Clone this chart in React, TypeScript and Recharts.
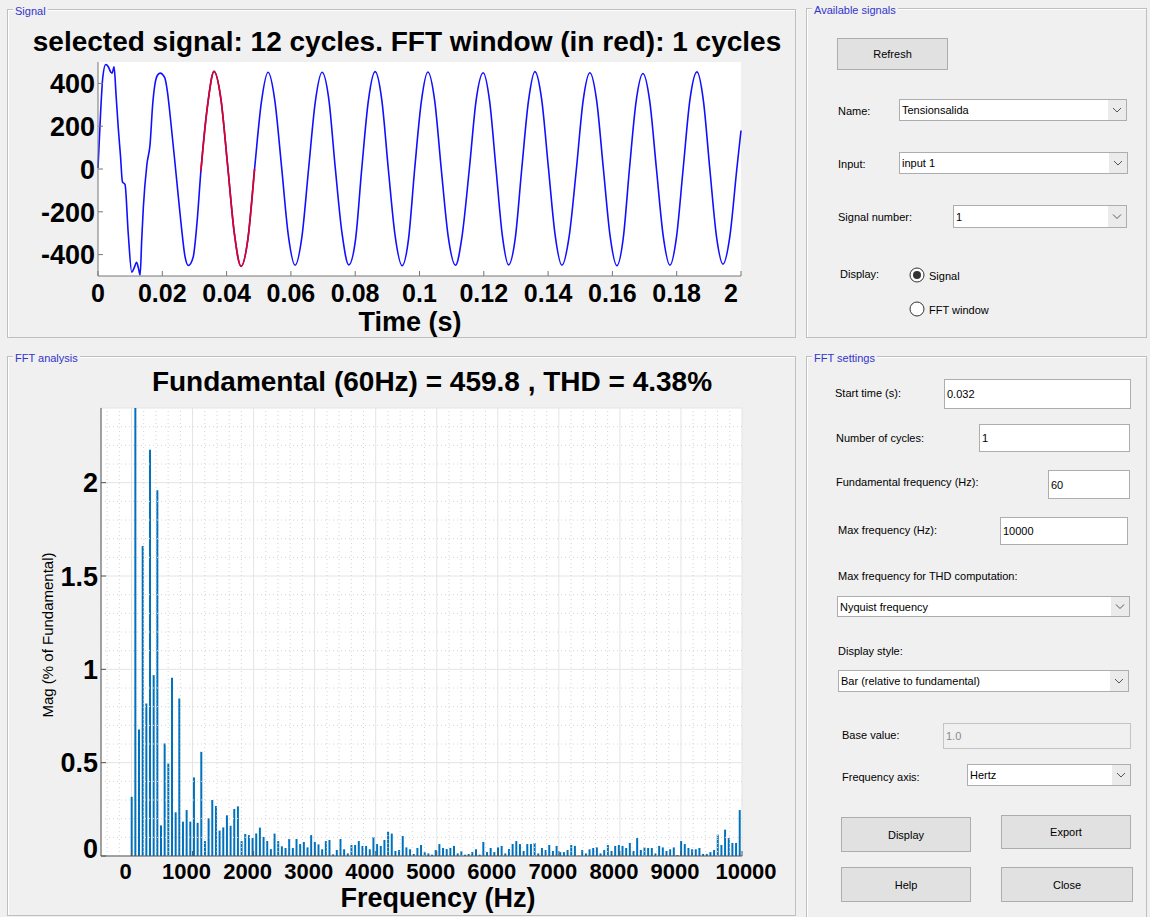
import React from "react";
import {
  Bar,
  CartesianGrid,
  ComposedChart,
  Line,
  LineChart,
  ReferenceLine,
  XAxis,
  YAxis,
} from "recharts";

const FONT = "'Liberation Sans', Arial, Helvetica, sans-serif";
const BG = "#f0f0f0";

// Signal trace: time (s) and amplitude.
const signalTime = [
  0.0, 0.0008, 0.0015, 0.0024, 0.0032, 0.004, 0.0044, 0.005, 0.0056, 0.0063, 0.007, 0.0076, 0.0084,
  0.0094, 0.0105, 0.0113, 0.012, 0.0126, 0.0131, 0.0136, 0.0141, 0.0152, 0.0162, 0.017, 0.0177,
  0.0185, 0.0193, 0.02, 0.0208, 0.0216, 0.0224, 0.0245, 0.0258, 0.0271, 0.0281, 0.0296, 0.0308,
  0.032, 0.0341, 0.0361, 0.0382, 0.0403, 0.0424, 0.0445, 0.0466, 0.0487,
  0.0508, 0.0529, 0.055, 0.0571, 0.0592, 0.0613, 0.0634,
  0.0655, 0.0676, 0.0697, 0.0718, 0.0738, 0.0759, 0.078, 0.0801,
  0.082, 0.0841, 0.0862, 0.0883, 0.0903, 0.0924, 0.0946, 0.0966,
  0.0985, 0.1006, 0.1026, 0.1047, 0.1068, 0.1089, 0.1112, 0.1132,
  0.1155, 0.1176, 0.1198, 0.1218, 0.1238, 0.1258, 0.1277, 0.1298,
  0.1318, 0.1339, 0.1359, 0.138, 0.1401, 0.1422, 0.1443, 0.1465,
  0.1488, 0.1509, 0.153, 0.1551, 0.1572, 0.1593, 0.1614, 0.1634,
  0.1653, 0.1674, 0.1695, 0.1716, 0.1737, 0.1758, 0.1779, 0.1799,
  0.182, 0.1841, 0.1863, 0.1883, 0.1903, 0.1924, 0.1944, 0.1965,
  0.1987, 0.2,
];
const signalValue = [
  5, 260, 430, 488, 478, 452, 448, 478, 350, 192, 60, -60, -72,
  -300, -482, -460, -436, -465, -495, -330, -180, 20, 116, 300, 395,
  438, 448, 443, 425, 360, 256, -56, -250, -412, -451, -412, -250,
  -10, 300, 456, 330, 20, -300, -455, -330, 0,
  310, 452, 320, 10, -310, -450, -320,
  0, 315, 452, 325, 5, -300, -448, -330,
  -5, 320, 455, 320, 0, -310, -452, -325,
  0, 318, 453, 322, -5, -312, -450, -318,
  0, 320, 450, 318, 0, -315, -448, -322,
  0, 318, 455, 325, 5, -310, -450, -320,
  0, 320, 450, 320, 0, -315, -452, -320,
  0, 318, 446, 318, 0, -312, -450, -322,
  0, 322, 454, 320, 0, -318, -445, -318,
  0, 180,
];

// FFT window drawn in red (start time, one 60 Hz cycle later).
const windowStart = 0.032;
const windowEnd = 0.0487;

const timeTicks = [0, 0.02, 0.04, 0.06, 0.08, 0.1, 0.12, 0.14, 0.16, 0.18, 0.2];
const voltTicks = [-400, -200, 0, 200, 400];

// Harmonic magnitudes in % of fundamental; index = harmonic order (0 = DC).
const fundamentalHz = 60;
const harmonicMag = [
  0.317, 100, 0.678, 1.661, 0.817, 2.177, 0.969, 1.959, 0.164, 0.603,
  0.496, 0.955, 0.234, 0.844, 0.184, 0.246, 0.184, 0.421, 0.178, 0.558,
  0.08, 0.202, 0.3, 0.268, 0.136, 0.153, 0.218, 0.162, 0.252, 0.266,
  0.08, 0.118, 0.112, 0.096, 0.12, 0.152, 0.102, 0.08, 0.037, 0.12,
  0.08, 0.052, 0.043, 0.091, 0.043, 0.091, 0.064, 0.075, 0.046, 0.112,
  0.075, 0.062, 0.036, 0.08, 0.086, 0.009, 0.032, 0.091, 0.036, 0.014,
  0.059, 0.059, 0.08, 0.054, 0.054, 0.036, 0.102, 0.064, 0.054, 0.086,
  0.13, 0.12, 0.027, 0.032, 0.107, 0.046, 0.036, 0.011, 0.043, 0.059,
  0.02, 0.014, 0.007, 0.032, 0.064, 0.043, 0.037, 0.043, 0.054, 0.014,
  0.027, 0.007, 0.011, 0.021, 0.036, 0.007, 0.075, 0.021, 0.043, 0.021,
  0.046, 0.054, 0.014, 0.037, 0.064, 0.08, 0.064, 0.027, 0.064, 0.064,
  0.07, 0.014, 0.043, 0.032, 0.059, 0.027, 0.054, 0.021, 0.021, 0.032,
  0.059, 0.054, 0.002, 0.032, 0.014, 0.036, 0.043, 0.046, 0.014, 0.032,
  0.059, 0.027, 0.054, 0.059, 0.054, 0.043, 0.07, 0.027, 0.096, 0.032,
  0.046, 0.043, 0.043, 0.014, 0.054, 0.046, 0.027, 0.036, 0.046, 0.005,
  0.08, 0.064, 0.043, 0.036, 0.036, 0.043, 0.011, 0.011, 0.021, 0.032,
  0.114, 0.059, 0.141, 0.096, 0.07, 0.07, 0.246,
];
const freqTicks = [0, 1000, 2000, 3000, 4000, 5000, 6000, 7000, 8000, 9000, 10000];
const magTicks = [0, 0.5, 1, 1.5, 2];

// dotted minor grid (every 200 Hz / 0.1)
const freqMinor = Array.from({ length: 52 }, (_, i) => -400 + i * 200).filter((v) => v % 1000 !== 0);
const magMinor = Array.from({ length: 23 }, (_, i) => i + 1).filter((i) => i % 5 !== 0).map((i) => i / 10);

const signalData = signalTime.map((t, i) => ({
  t,
  v: signalValue[i],
  win: t >= windowStart - 1e-9 && t <= windowEnd + 1e-9 ? signalValue[i] : null,
}));
const fftData = harmonicMag.map((m, i) => ({ f: i * fundamentalHz, m }));

const noLabel = () => "";

function TimeTick(p: any) {
  const v = p.payload.value;
  const last = v === 0.2;
  return (
    <text x={p.x + (last ? -10 : 0)} y={p.y} dy="0.71em" textAnchor="middle" fontSize={25} fontWeight="bold" fill="#000" fontFamily={FONT}>
      {last ? "2" : String(v)}
    </text>
  );
}

function LeftTick(p: any) {
  const v = p.payload.value;
  return (
    <text x={p.x} y={p.y + (p.lift && v === 0 ? -8 : 0)} dy="0.36em" textAnchor="end" fontSize={27} fontWeight="bold" fill="#000" fontFamily={FONT}>
      {String(v)}
    </text>
  );
}

function FreqTick(p: any) {
  const v = p.payload.value;
  return (
    <text x={p.x + (v === 10000 ? 4 : -6)} y={p.y} dy="0.71em" textAnchor="middle" fontSize={22} fontWeight="bold" fill="#000" fontFamily={FONT}>
      {String(v)}
    </text>
  );
}

function Panel({ x, y, w, h, title }: { x: number; y: number; w: number; h: number; title: string }) {
  return (
    <div
      style={{
        position: "absolute",
        left: x,
        top: y,
        width: w,
        height: h,
        boxSizing: "border-box",
        border: "1px solid #bfbfbf",
        boxShadow: "inset 1px 1px 0 #ffffff",
      }}
    >
      <span
        style={{
          position: "absolute",
          left: 5,
          top: -5,
          padding: "0 2px",
          background: BG,
          color: "#3333cc",
          fontSize: 11,
          lineHeight: "13px",
        }}
      >
        {title}
      </span>
    </div>
  );
}

function Text({ x, y, children, color = "#000" }: { x: number; y: number; children: React.ReactNode; color?: string }) {
  return (
    <div style={{ position: "absolute", left: x, top: y, transform: "translateY(-50%)", fontSize: 11, color, whiteSpace: "nowrap" }}>
      {children}
    </div>
  );
}

function Heading({ x, y, size, children }: { x: number; y: number; size: number; children: React.ReactNode }) {
  return (
    <div
      style={{
        position: "absolute",
        left: x,
        top: y,
        transform: "translate(-50%, -50%)",
        fontSize: size,
        lineHeight: 1,
        fontWeight: "bold",
        whiteSpace: "nowrap",
        color: "#000",
      }}
    >
      {children}
    </div>
  );
}

function Box({ x, y, w, h, text, disabled }: { x: number; y: number; w: number; h: number; text: string; disabled?: boolean }) {
  return (
    <div
      style={{
        position: "absolute",
        left: x,
        top: y,
        width: w,
        height: h,
        boxSizing: "border-box",
        border: `1px solid ${disabled ? "#c4c4c4" : "#adadad"}`,
        background: disabled ? BG : "#fff",
      }}
    >
      <span style={{ position: "absolute", left: 2, top: "50%", transform: "translateY(-50%)", fontSize: 11, color: disabled ? "#8a8a8a" : "#000" }}>
        {text}
      </span>
    </div>
  );
}

function Dropdown({ x, y, w, h, text }: { x: number; y: number; w: number; h: number; text: string }) {
  const cy = (h - 2) / 2;
  return (
    <div
      style={{
        position: "absolute",
        left: x,
        top: y,
        width: w,
        height: h,
        boxSizing: "border-box",
        border: "1px solid #adadad",
        background: "#fff",
      }}
    >
      <span style={{ position: "absolute", left: 2, top: "50%", transform: "translateY(-50%)", fontSize: 11 }}>{text}</span>
      <svg style={{ position: "absolute", right: 0, top: 0 }} width={18} height={h - 2}>
        <rect x={0} y={0} width={18} height={h - 2} fill="#ebebeb" />
        <polyline points={`${5},${cy - 2} ${9},${cy + 2} ${13},${cy - 2}`} fill="none" stroke="#555" strokeWidth={1} />
      </svg>
    </div>
  );
}

function Button({ x, y, w, h, text }: { x: number; y: number; w: number; h: number; text: string }) {
  return (
    <div
      style={{
        position: "absolute",
        left: x,
        top: y,
        width: w,
        height: h,
        boxSizing: "border-box",
        border: "1px solid #adadad",
        background: "#e1e1e1",
        fontSize: 11,
        display: "flex",
        alignItems: "center",
        justifyContent: "center",
      }}
    >
      {text}
    </div>
  );
}

function Radio({ x, y, on }: { x: number; y: number; on: boolean }) {
  return (
    <svg style={{ position: "absolute", left: x - 8, top: y - 8 }} width={16} height={16}>
      <circle cx={8} cy={8} r={7} fill="#fff" stroke="#333" strokeWidth={1} />
      {on && <circle cx={8} cy={8} r={4} fill="#333" />}
    </svg>
  );
}

function SignalChart() {
  return (
    <div style={{ position: "absolute", left: 0, top: 0 }}>
      <LineChart width={800} height={340} data={signalData} margin={{ top: 62, right: 59, bottom: 24, left: 18 }}>
        <CartesianGrid horizontal={false} vertical={false} fill="#ffffff" xAxisId="b" yAxisId="l" />
        <XAxis
          xAxisId="b"
          dataKey="t"
          type="number"
          domain={[0, 0.2]}
          ticks={timeTicks}
          interval={0}
          height={40}
          tickSize={-5}
          tickMargin={13}
          axisLine={{ stroke: "#777" }}
          tickLine={{ stroke: "#777" }}
          tick={TimeTick}
        />
        <XAxis
          xAxisId="t"
          orientation="top"
          type="number"
          domain={[0, 0.2]}
          ticks={timeTicks}
          interval={0}
          height={0}
          tickSize={-5}
          axisLine={{ stroke: "#999" }}
          tickLine={{ stroke: "#777" }}
          tickFormatter={noLabel}
        />
        <YAxis
          yAxisId="l"
          type="number"
          domain={[-500, 500]}
          ticks={voltTicks}
          interval={0}
          width={80}
          tickSize={-5}
          tickMargin={8}
          axisLine={{ stroke: "#777" }}
          tickLine={{ stroke: "#777" }}
          tick={LeftTick}
          allowDataOverflow
        />
        <YAxis
          yAxisId="r"
          orientation="right"
          type="number"
          domain={[-500, 500]}
          ticks={voltTicks}
          interval={0}
          width={0}
          tickSize={-5}
          axisLine={{ stroke: "#777" }}
          tickLine={{ stroke: "#777" }}
          tickFormatter={noLabel}
        />
        <Line xAxisId="b" yAxisId="l" dataKey="v" type="monotone" stroke="#1010ff" strokeWidth={1.6} dot={false} isAnimationActive={false} />
        <Line xAxisId="b" yAxisId="l" dataKey="win" type="monotone" stroke="#e00020" strokeWidth={1.7} dot={false} isAnimationActive={false} />
      </LineChart>
    </div>
  );
}

function FftChart() {
  return (
    <div style={{ position: "absolute", left: 0, top: 360 }}>
      <ComposedChart width={800} height={556} data={fftData} margin={{ top: 48, right: 58, bottom: 16, left: 11 }}>
        <CartesianGrid stroke="#e4e4e4" fill="#ffffff" xAxisId="b" yAxisId="l" />
        {freqMinor.map((v) => (
          <ReferenceLine key={`fx${v}`} xAxisId="b" yAxisId="l" x={v} stroke="#d4d4d4" strokeDasharray="1 3" />
        ))}
        {magMinor.map((v) => (
          <ReferenceLine key={`my${v}`} xAxisId="b" yAxisId="l" y={v} stroke="#d4d4d4" strokeDasharray="1 3" />
        ))}
        <XAxis
          xAxisId="b"
          dataKey="f"
          type="number"
          domain={[-500, 10000]}
          ticks={freqTicks}
          interval={0}
          height={44}
          tickSize={-5}
          tickMargin={12}
          axisLine={{ stroke: "#555" }}
          tickLine={{ stroke: "#555" }}
          tick={FreqTick}
          allowDataOverflow
        />
        <XAxis
          xAxisId="t"
          orientation="top"
          type="number"
          domain={[-500, 10000]}
          ticks={freqTicks}
          interval={0}
          height={0}
          tickSize={-5}
          axisLine={{ stroke: "#aaa" }}
          tickLine={{ stroke: "#666" }}
          tickFormatter={noLabel}
        />
        <YAxis
          yAxisId="l"
          type="number"
          domain={[0, 2.4]}
          ticks={magTicks}
          interval={0}
          width={90}
          tickSize={-5}
          tickMargin={8}
          axisLine={{ stroke: "#555" }}
          tickLine={{ stroke: "#555" }}
          tick={(p: any) => <LeftTick {...p} lift />}
          allowDataOverflow
        />
        <YAxis
          yAxisId="r"
          orientation="right"
          type="number"
          domain={[0, 2.4]}
          ticks={magTicks}
          interval={0}
          width={0}
          tickSize={-5}
          axisLine={{ stroke: "#555" }}
          tickLine={{ stroke: "#555" }}
          tickFormatter={noLabel}
        />
        <Bar xAxisId="b" yAxisId="l" dataKey="m" fill="#0072bd" barSize={2} isAnimationActive={false} />
      </ComposedChart>
    </div>
  );
}

export default function App() {
  return (
    <div
      style={{
        position: "absolute",
        left: 0,
        top: 0,
        width: 1150,
        height: 917,
        overflow: "hidden",
        background: BG,
        fontFamily: FONT,
        color: "#000",
      }}
    >
      <Panel x={7} y={9} w={789} h={329} title="Signal" />
      <Panel x={7} y={356} w={789} h={560} title="FFT analysis" />
      <Panel x={806} y={8} w={341} h={330} title="Available signals" />
      <Panel x={806} y={356} w={341} h={570} title="FFT settings" />

      {/* Signal plot */}
      <Heading x={407} y={42} size={28}>
        selected signal: 12 cycles. FFT window (in red): 1 cycles
      </Heading>
      <SignalChart />
      <Heading x={410} y={322} size={27}>
        Time (s)
      </Heading>

      {/* FFT plot */}
      <Heading x={432} y={382} size={28}>
        Fundamental (60Hz) = 459.8 , THD = 4.38%
      </Heading>
      <FftChart />
      <Heading x={438} y={898} size={27}>
        Frequency (Hz)
      </Heading>
      <div
        style={{
          position: "absolute",
          left: 47,
          top: 635,
          transform: "translate(-50%, -50%) rotate(-90deg)",
          fontSize: 15,
          whiteSpace: "nowrap",
        }}
      >
        Mag (% of Fundamental)
      </div>

      {/* Available signals */}
      <Button x={837} y={38} w={111} h={32} text="Refresh" />
      <Text x={838} y={111}>Name:</Text>
      <Dropdown x={899} y={99} w={228} h={22} text="Tensionsalida" />
      <Text x={838} y={164}>Input:</Text>
      <Dropdown x={899} y={152} w={229} h={22} text="input 1" />
      <Text x={838} y={217}>Signal number:</Text>
      <Dropdown x={953} y={205} w={174} h={23} text="1" />
      <Text x={840} y={274}>Display:</Text>
      <Radio x={917} y={275} on />
      <Text x={929} y={276}>Signal</Text>
      <Radio x={917} y={309} on={false} />
      <Text x={929} y={310}>FFT window</Text>

      {/* FFT settings */}
      <Text x={835} y={393}>Start time (s):</Text>
      <Box x={944} y={379} w={187} h={30} text="0.032" />
      <Text x={836} y={438}>Number of cycles:</Text>
      <Box x={979} y={424} w={151} h={28} text="1" />
      <Text x={836} y={482}>Fundamental frequency (Hz):</Text>
      <Box x={1048} y={470} w={82} h={29} text="60" />
      <Text x={838} y={530}>Max frequency (Hz):</Text>
      <Box x={1000} y={517} w={128} h={28} text="10000" />
      <Text x={838} y={576}>Max frequency for THD computation:</Text>
      <Dropdown x={837} y={596} w={293} h={21} text="Nyquist frequency" />
      <Text x={838} y={651}>Display style:</Text>
      <Dropdown x={838} y={670} w={291} h={22} text="Bar (relative to fundamental)" />
      <Text x={842} y={735}>Base value:</Text>
      <Box x={943} y={723} w={188} h={26} text="1.0" disabled />
      <Text x={842} y={777}>Frequency axis:</Text>
      <Dropdown x={967} y={764} w={164} h={22} text="Hertz" />
      <Button x={841} y={817} w={130} h={35} text="Display" />
      <Button x={1001} y={815} w={130} h={34} text="Export" />
      <Button x={841} y={867} w={130} h={35} text="Help" />
      <Button x={1001} y={867} w={132} h={35} text="Close" />
    </div>
  );
}
